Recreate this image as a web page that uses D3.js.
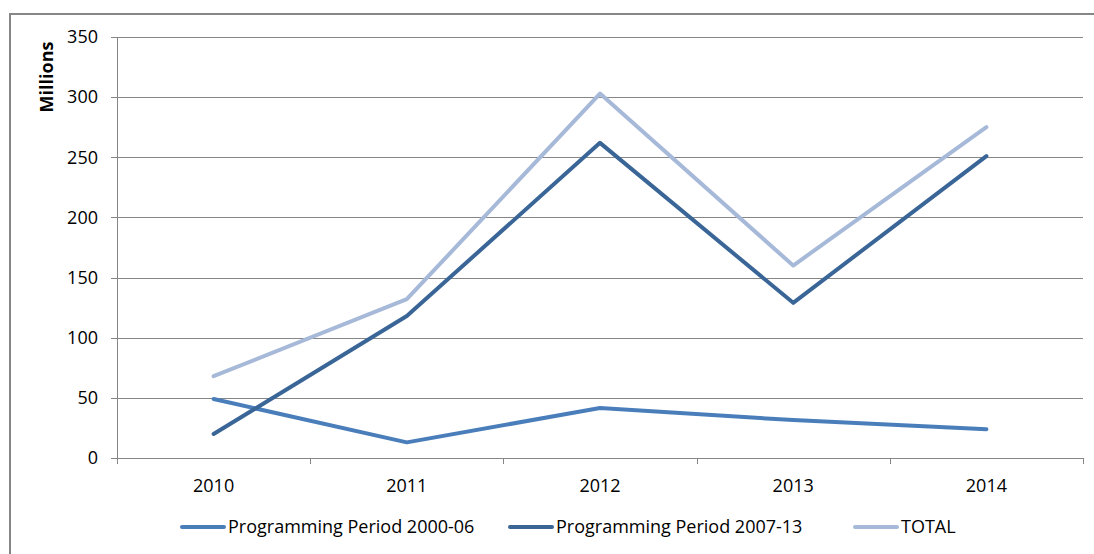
<!DOCTYPE html>
<meta charset="utf-8">
<style>
body { margin: 0; background: #fff; }
svg text { font-family: "Open Sans", sans-serif; fill: #000; }
.axis path, .axis line { stroke: #868686; stroke-width: 1; shape-rendering: crispEdges; }
.grid line { stroke: #868686; stroke-width: 1; shape-rendering: crispEdges; }
</style>
<body>
<div id="chart"></div>
<script src="https://d3js.org/d3.v7.min.js"></script>
<script>

// data
var years = ["2010", "2011", "2012", "2013", "2014"];
var pp0006 = [49, 13, 41.5, 31.5, 24];
var pp0713 = [20, 118, 262, 129, 251];
var total = [68, 132, 303, 160, 275];
var yTicks = [0, 50, 100, 150, 200, 250, 300, 350];

var series = [
    {name: "Programming Period 2000-06", values: pp0006, color: "#4a7ebb"},
    {name: "Programming Period 2007-13", values: pp0713, color: "#3a6597"},
    {name: "TOTAL", values: total, color: "#a7b9d8"}
];

var largeur = 1094;
var hauteur = 554;
var margin = {top: 37, right: 11, bottom: 96, left: 117};

var svg = d3.select("#chart")
    .append("svg")
        .attr("width", largeur)
        .attr("height", hauteur);

// cadre extérieur (gauche + haut)
svg.append("path")
    .attr("d", "M10," + hauteur + "V14H" + largeur)
    .attr("fill", "none")
    .attr("stroke", "#868686")
    .attr("stroke-width", 2);

var x = d3.scaleBand()
    .domain(years)
    .range([margin.left, largeur - margin.right])
    .padding(0);

var y = d3.scaleLinear()
    .domain([0, 350])
    .range([hauteur - margin.bottom, margin.top]);

// grille horizontale
svg.append("g")
    .attr("class", "grid")
    .selectAll("line")
    .data(yTicks.filter(d => d > 0))
    .enter().append("line")
        .attr("x1", margin.left)
        .attr("x2", largeur - margin.right)
        .attr("y1", d => Math.round(y(d)) + 0.5)
        .attr("y2", d => Math.round(y(d)) + 0.5);

// axe y
var yAxis = svg.append("g")
    .attr("class", "axis")
    .attr("transform", "translate(" + margin.left + ",0)")
    .call(d3.axisLeft(y).tickValues(yTicks).tickSize(6).tickSizeOuter(0).tickPadding(13));
yAxis.selectAll("text").style("font-size", "18px");

// axe x avec graduations aux limites des catégories
var xAxisY = hauteur - margin.bottom;
var xg = svg.append("g")
    .attr("class", "axis")
    .attr("transform", "translate(0," + xAxisY + ")");
xg.append("line")
    .attr("x1", margin.left).attr("x2", largeur - margin.right)
    .attr("y1", 0.5).attr("y2", 0.5);
var bounds = years.map(d => x(d)).concat([largeur - margin.right]);
xg.selectAll(".tk")
    .data(bounds)
    .enter().append("line")
        .attr("class", "tk")
        .attr("x1", d => Math.round(d) + 0.5)
        .attr("x2", d => Math.round(d) + 0.5)
        .attr("y1", 0)
        .attr("y2", 6);
xg.selectAll("text")
    .data(years)
    .enter().append("text")
        .attr("x", d => x(d) + x.bandwidth() / 2)
        .attr("y", 34)
        .attr("text-anchor", "middle")
        .style("font-size", "18px")
        .text(d => d);

// titre de l'axe y
svg.append("text")
    .attr("transform", "translate(53,77) rotate(-90)")
    .attr("text-anchor", "middle")
    .style("font-size", "18px")
    .style("font-weight", "bold")
    .text("Millions");

// courbes
var line = d3.line()
    .x((d, i) => x(years[i]) + x.bandwidth() / 2)
    .y(d => y(d));

series.forEach(function(s) {
    svg.append("path")
        .datum(s.values)
        .attr("fill", "none")
        .attr("stroke", s.color)
        .attr("stroke-width", 4)
        .attr("stroke-linejoin", "round")
        .attr("stroke-linecap", "round")
        .attr("d", line);
});

// légende
var legendX = [182, 510, 855];
var legend = svg.append("g")
    .selectAll("g")
    .data(series)
    .enter().append("g")
        .attr("transform", (d, i) => "translate(" + legendX[i] + ",527)");
legend.append("line")
    .attr("x1", 0).attr("x2", 42)
    .attr("stroke", d => d.color)
    .attr("stroke-width", 4)
    .attr("stroke-linecap", "round");
legend.append("text")
    .attr("x", 46)
    .attr("dy", "0.35em")
    .style("font-size", "18px")
    .text(d => d.name);

</script>
</body>
